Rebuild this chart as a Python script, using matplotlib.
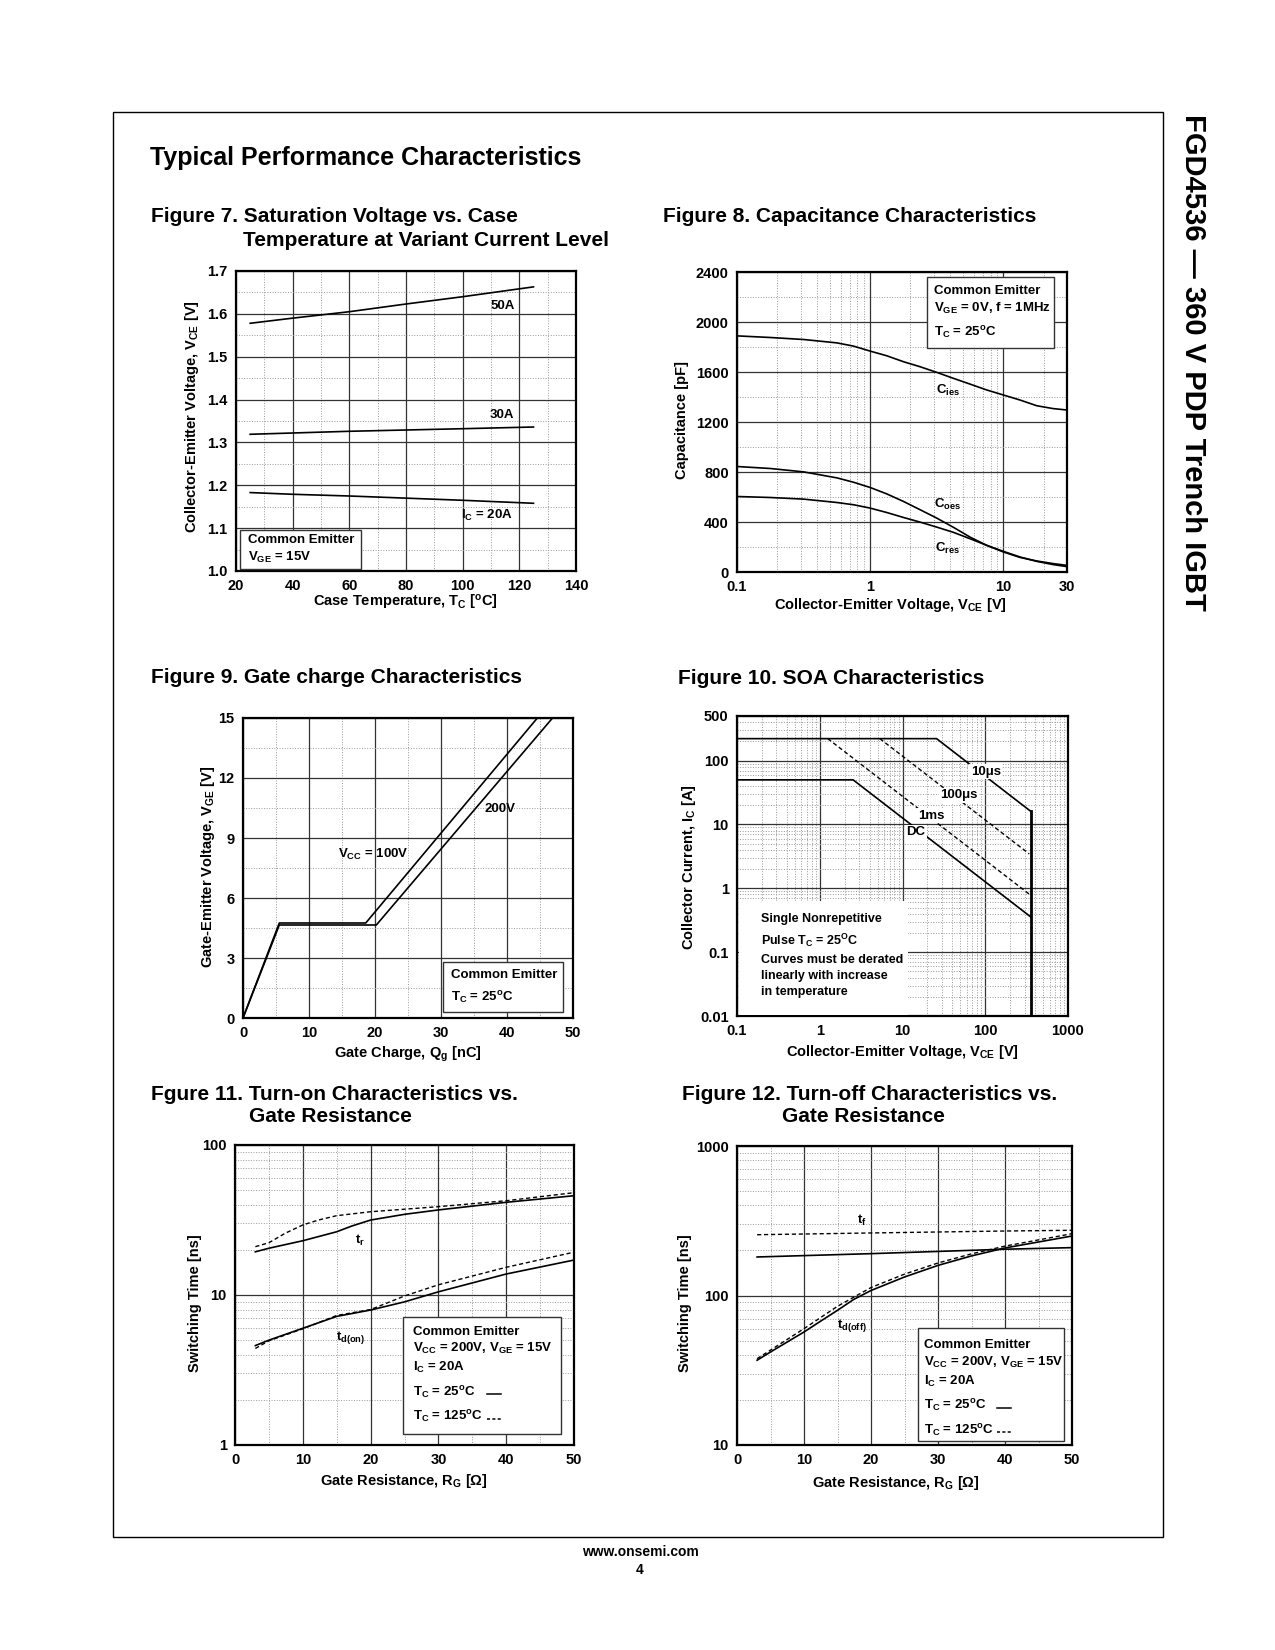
import matplotlib
matplotlib.use('Agg')
import matplotlib.pyplot as plt
from matplotlib.patches import Rectangle
from matplotlib.lines import Line2D
from matplotlib.ticker import MultipleLocator, LogLocator, NullFormatter, FormatStrFormatter

plt.rcParams['font.family'] = ['Liberation Sans', 'DejaVu Sans']
plt.rcParams['font.weight'] = 'bold'
plt.rcParams['mathtext.fontset'] = 'custom'
plt.rcParams['mathtext.rm'] = 'Liberation Sans:bold'
plt.rcParams['mathtext.it'] = 'Liberation Sans:bold'
plt.rcParams['mathtext.bf'] = 'Liberation Sans:bold'

# ---- Figure 7 data: VCE(sat) vs case temperature
tc = [25, 40, 60, 80, 100, 125]
vce_50a = [1.578, 1.590, 1.605, 1.623, 1.640, 1.663]
vce_30a = [1.319, 1.322, 1.326, 1.329, 1.332, 1.336]
vce_20a = [1.183, 1.179, 1.175, 1.170, 1.165, 1.158]

# ---- Figure 8 data: capacitance
vce_cap = [0.1, 0.178, 0.316, 0.562, 0.75, 1, 1.33, 1.78, 2.37, 3.16, 4.22, 5.62, 7.5,
           10, 13.3, 17.8, 23.7, 30]
cies = [1889, 1876, 1860, 1833, 1807, 1767, 1730, 1682, 1642, 1597, 1549, 1503, 1456,
        1416, 1376, 1330, 1307, 1296]
coes = [844, 828, 801, 753, 718, 676, 625, 564, 498, 431, 357, 279, 213,
        160, 117, 88, 67, 53]
cres = [604, 596, 583, 556, 538, 511, 476, 436, 399, 359, 317, 266, 213,
        165, 120, 85, 59, 43]

# ---- Figure 9 data: gate charge
qg_100v = [0, 5.5, 18.6, 44.6]
vge_100v = [0, 4.75, 4.75, 15]
qg_200v = [0, 5.5, 20.2, 46.9]
vge_200v = [0, 4.65, 4.65, 15]

# ---- Figure 10 data: SOA
soa_10us_v = [0.1, 25.8, 356]
soa_10us_i = [221, 221, 16]
soa_dc_v = [0.1, 2.53, 356]
soa_dc_i = [50, 50, 0.355]
soa_100us_v = [5.32, 340]
soa_100us_i = [221, 3.46]
soa_1ms_v = [1.25, 340]
soa_1ms_i = [221, 0.81]

# ---- Figure 11 data: turn-on vs RG
rg_tr25 = [3, 5, 10, 15, 17.2, 20, 25, 30, 40, 50]
tr_25 = [19.4, 20.5, 23.0, 26.4, 28.8, 31.6, 34.5, 36.9, 41.5, 45.9]
rg_tr125 = [3, 5, 7.4, 10, 12.3, 15, 20, 30, 40, 50]
tr_125 = [21.0, 22.3, 25.8, 29.3, 31.6, 33.8, 35.9, 38.8, 42.5, 48.1]
rg_tdon = [3, 5, 10, 15, 20, 25, 30, 40, 50]
tdon_25 = [4.6, 5.0, 6.0, 7.2, 7.94, 9.0, 10.5, 13.8, 17.1]
tdon_125 = [4.4, 4.95, 5.95, 7.3, 8.0, 9.85, 11.7, 15.3, 19.3]

# ---- Figure 12 data: turn-off vs RG
rg_tf = [3, 20, 40, 50]
tf_25 = [181, 190.5, 204, 209]
tf_125 = [255, 262, 270, 273]
rg_tdoff25 = [3, 5, 10, 12.4, 15, 17.4, 20, 25, 30, 35, 40, 50]
tdoff_25 = [36.9, 41.9, 57, 67, 79.6, 94, 108, 133, 159, 184, 208, 250]
rg_tdoff125 = [3, 10, 15, 20, 25, 30, 35, 40, 50]
tdoff_125 = [37.8, 60, 84.7, 113, 139, 165, 190, 214, 259]

W, H = 1275, 1650
fig = plt.figure(figsize=(12.75, 16.5), dpi=100)

TITLE = 15
TICK = 10.5
LABEL = 10.5
BOX = 9.5


def add_ax(l, t, r, b):
    return fig.add_axes([l / W, 1 - b / H, (r - l) / W, (b - t) / H])


def ftext(x, y, s, **kw):
    kw.setdefault('va', 'center')
    fig.text(x / W, 1 - y / H, s, **kw)


def fbox(x0, y0, x1, y1, ec='#333333'):
    fig.add_artist(Rectangle((x0 / W, 1 - y1 / H), (x1 - x0) / W, (y1 - y0) / H,
                             transform=fig.transFigure, fc='white', ec=ec, lw=1.0))


def fline(x0, x1, y, ls='-'):
    fig.add_artist(Line2D([x0 / W, x1 / W], [1 - y / H, 1 - y / H], transform=fig.transFigure,
                          color='black', lw=1.1, ls=ls))


def style(ax):
    for sp in ax.spines.values():
        sp.set_linewidth(1.6)
        sp.set_color('black')
    ax.tick_params(which='both', length=0, labelsize=TICK, pad=6)
    ax.xaxis.set_minor_formatter(NullFormatter())
    ax.yaxis.set_minor_formatter(NullFormatter())
    ax.grid(which='major', color='#333333', lw=0.9)
    ax.grid(which='minor', color='#999999', lw=0.7, ls=':')
    ax.set_axisbelow(True)


lw = 1.2
dash = (0, (3, 2))

# page frame and header
fig.add_artist(Rectangle((112.6 / W, 1 - 1537 / H), 1050 / W, (1537 - 111.5) / H,
                         transform=fig.transFigure, fc='none', ec='black', lw=1.0))
ftext(150, 158, 'Typical Performance Characteristics', fontsize=18)
ftext(1193, 362, 'FGD4536 \u2014 360 V PDP Trench IGBT', fontsize=21, rotation=-90,
      ha='center')
ftext(640, 1552, 'www.onsemi.com', fontsize=10, ha='center')
ftext(640, 1570, '4', fontsize=10, ha='center')

# ================= Figure 7
ax = add_ax(236, 271, 576, 571)
ax.plot(tc, vce_50a, color='black', lw=lw)
ax.plot(tc, vce_30a, color='black', lw=lw)
ax.plot(tc, vce_20a, color='black', lw=lw)
ax.set_xlim(20, 140)
ax.set_ylim(1.0, 1.7)
ax.xaxis.set_major_locator(MultipleLocator(20))
ax.xaxis.set_minor_locator(MultipleLocator(10))
ax.yaxis.set_major_locator(MultipleLocator(0.1))
ax.yaxis.set_minor_locator(MultipleLocator(0.05))
ax.yaxis.set_major_formatter(FormatStrFormatter('%.1f'))
style(ax)
ax.text(114, 1.619, '50A', fontsize=BOX, ha='center', va='center')
ax.text(114, 1.365, '30A', fontsize=BOX, ha='center', va='center')
ax.text(108.6, 1.13, 'I$_C$ = 20A', fontsize=BOX, ha='center', va='center')
ftext(150.7, 217, 'Figure 7. Saturation Voltage vs. Case', fontsize=TITLE)
ftext(243, 240, 'Temperature at Variant Current Level', fontsize=TITLE)
ftext(191.7, 417, 'Collector-Emitter Voltage, V$_{CE}$ [V]', fontsize=LABEL, rotation=90, ha='center')
ftext(405, 603, 'Case Temperature, T$_C$ [$^o$C]', fontsize=LABEL, ha='center')
fbox(240, 530, 361, 569.3)
ftext(248, 540, 'Common Emitter', fontsize=BOX)
ftext(248, 557.7, 'V$_{GE}$ = 15V', fontsize=BOX)

# ================= Figure 8
ax = add_ax(737, 272, 1067, 572)
ax.plot(vce_cap, cies, color='black', lw=lw)
ax.plot(vce_cap, coes, color='black', lw=lw)
ax.plot(vce_cap, cres, color='black', lw=lw)
ax.set_xscale('log')
ax.set_xlim(0.1, 30)
ax.set_ylim(0, 2400)
ax.set_xticks([0.1, 1, 10, 30])
ax.set_xticklabels(['0.1', '1', '10', '30'])
ax.xaxis.set_minor_locator(LogLocator(subs=range(2, 10)))
ax.yaxis.set_major_locator(MultipleLocator(400))
ax.yaxis.set_minor_locator(MultipleLocator(200))
style(ax)
ax.text(3.82, 1455, 'C$_{ies}$', fontsize=BOX, ha='center', va='center')
ax.text(3.82, 537, 'C$_{oes}$', fontsize=BOX, ha='center', va='center')
ax.text(3.82, 192, 'C$_{res}$', fontsize=BOX, ha='center', va='center')
ftext(662.7, 216.7, 'Figure 8. Capacitance Characteristics', fontsize=TITLE)
ftext(681.7, 420, 'Capacitance [pF]', fontsize=LABEL, rotation=90, ha='center')
ftext(890, 605, 'Collector-Emitter Voltage, V$_{CE}$ [V]', fontsize=LABEL, ha='center')
fbox(926.7, 276.7, 1054.3, 348.3)
ftext(934, 290.7, 'Common Emitter', fontsize=BOX)
ftext(934, 308.3, 'V$_{GE}$ = 0V, f = 1MHz', fontsize=BOX)
ftext(934, 332.7, 'T$_C$ = 25$^o$C', fontsize=BOX)

# ================= Figure 9
ax = add_ax(243, 718, 573, 1018)
ax.plot(qg_100v, vge_100v, color='black', lw=lw)
ax.plot(qg_200v, vge_200v, color='black', lw=lw)
ax.set_xlim(0, 50)
ax.set_ylim(0, 15)
ax.xaxis.set_major_locator(MultipleLocator(10))
ax.xaxis.set_minor_locator(MultipleLocator(5))
ax.yaxis.set_major_locator(MultipleLocator(3))
ax.yaxis.set_minor_locator(MultipleLocator(1.5))
style(ax)
ax.text(19.7, 8.17, 'V$_{CC}$ = 100V', fontsize=BOX, ha='center', va='center')
ax.text(39.0, 10.45, '200V', fontsize=BOX, ha='center', va='center')
ftext(150.7, 677.7, 'Figure 9. Gate charge Characteristics', fontsize=TITLE)
ftext(208.3, 866.7, 'Gate-Emitter Voltage, V$_{GE}$ [V]', fontsize=LABEL, rotation=90, ha='center')
ftext(408, 1054, 'Gate Charge, Q$_g$ [nC]', fontsize=LABEL, ha='center')
fbox(443.3, 962.3, 562.7, 1011.7)
ftext(451, 975, 'Common Emitter', fontsize=BOX)
ftext(451, 997.7, 'T$_C$ = 25$^o$C', fontsize=BOX)

# ================= Figure 10
ax = add_ax(737, 716, 1068, 1016)
ax.plot(soa_10us_v, soa_10us_i, color='black', lw=lw)
ax.plot([soa_10us_v[-1]] * 2, [0.01, soa_10us_i[-1]], color='black', lw=2.0)
ax.plot(soa_dc_v, soa_dc_i, color='black', lw=lw)
ax.plot(soa_100us_v, soa_100us_i, color='black', lw=1.0, ls=dash)
ax.plot(soa_1ms_v, soa_1ms_i, color='black', lw=1.0, ls=dash)
ax.set_xscale('log')
ax.set_yscale('log')
ax.set_xlim(0.1, 1000)
ax.set_ylim(0.01, 500)
ax.set_xticks([0.1, 1, 10, 100, 1000])
ax.set_xticklabels(['0.1', '1', '10', '100', '1000'])
ax.set_yticks([0.01, 0.1, 1, 10, 100, 500])
ax.set_yticklabels(['0.01', '0.1', '1', '10', '100', '500'])
ax.xaxis.set_minor_locator(LogLocator(subs=range(2, 10)))
ax.yaxis.set_minor_locator(LogLocator(subs=range(2, 10)))
style(ax)
bb = dict(fc='white', ec='none', pad=1)
ax.text(67, 67, '10\u03bcs', fontsize=BOX, ha='left', va='center', bbox=bb)
ax.text(28.8, 28.7, '100\u03bcs', fontsize=BOX, ha='left', va='center', bbox=bb)
ax.text(15.5, 13.8, '1ms', fontsize=BOX, ha='left', va='center', bbox=bb)
ax.text(11.2, 7.5, 'DC', fontsize=BOX, ha='left', va='center', bbox=bb)
ftext(678.3, 678.3, 'Figure 10. SOA Characteristics', fontsize=TITLE)
ftext(689.3, 866.7, 'Collector Current, I$_C$ [A]', fontsize=LABEL, rotation=90, ha='center')
ftext(902, 1051.7, 'Collector-Emitter Voltage, V$_{CE}$ [V]', fontsize=LABEL, ha='center')
fbox(738.5, 900.7, 908.3, 1014.5, ec='none')
ftext(761, 918.7, 'Single Nonrepetitive', fontsize=9)
ftext(761, 940.3, 'Pulse T$_C$ = 25$^O$C', fontsize=9)
ftext(761, 960.3, 'Curves must be derated', fontsize=9)
ftext(761, 976, 'linearly with increase', fontsize=9)
ftext(761, 991.7, 'in temperature', fontsize=9)

# ================= Figure 11
ax = add_ax(235, 1145, 574, 1445)
ax.plot(rg_tr25, tr_25, color='black', lw=lw)
ax.plot(rg_tr125, tr_125, color='black', lw=1.0, ls=dash)
ax.plot(rg_tdon, tdon_25, color='black', lw=lw)
ax.plot(rg_tdon, tdon_125, color='black', lw=1.0, ls=dash)
ax.set_yscale('log')
ax.set_xlim(0, 50)
ax.set_ylim(1, 100)
ax.xaxis.set_major_locator(MultipleLocator(10))
ax.xaxis.set_minor_locator(MultipleLocator(5))
ax.set_yticks([1, 10, 100])
ax.set_yticklabels(['1', '10', '100'])
ax.yaxis.set_minor_locator(LogLocator(subs=range(2, 10)))
style(ax)
ax.text(18.5, 23.1, 't$_r$', fontsize=BOX, ha='center', va='center')
ax.text(17.1, 5.2, 't$_{d(on)}$', fontsize=BOX, ha='center', va='center')
ftext(150.7, 1094, 'Fgure 11. Turn-on Characteristics vs.', fontsize=TITLE)
ftext(249.3, 1116.7, 'Gate Resistance', fontsize=TITLE)
ftext(195, 1303, 'Switching Time [ns]', fontsize=LABEL, rotation=90, ha='center')
ftext(404, 1481, 'Gate Resistance, R$_G$ [\u03a9]', fontsize=LABEL, ha='center')
fbox(403.3, 1316.7, 560.7, 1434)
ftext(413.3, 1331.7, 'Common Emitter', fontsize=BOX)
ftext(413.3, 1348.3, 'V$_{CC}$ = 200V, V$_{GE}$ = 15V', fontsize=BOX)
ftext(413.3, 1367.7, 'I$_C$ = 20A', fontsize=BOX)
ftext(413.3, 1392.7, 'T$_C$ = 25$^o$C', fontsize=BOX)
ftext(413.3, 1417.3, 'T$_C$ = 125$^o$C', fontsize=BOX)
fline(487, 501, 1394.3)
fline(487, 501, 1419, ls=(0, (2, 1.5)))

# ================= Figure 12
ax = add_ax(737, 1146, 1072, 1445)
ax.plot(rg_tf, tf_25, color='black', lw=lw)
ax.plot(rg_tf, tf_125, color='black', lw=1.0, ls=dash)
ax.plot(rg_tdoff25, tdoff_25, color='black', lw=lw)
ax.plot(rg_tdoff125, tdoff_125, color='black', lw=1.0, ls=dash)
ax.set_yscale('log')
ax.set_xlim(0, 50)
ax.set_ylim(10, 1000)
ax.xaxis.set_major_locator(MultipleLocator(10))
ax.xaxis.set_minor_locator(MultipleLocator(5))
ax.set_yticks([10, 100, 1000])
ax.set_yticklabels(['10', '100', '1000'])
ax.yaxis.set_minor_locator(LogLocator(subs=range(2, 10)))
style(ax)
ax.text(18.7, 319, 't$_f$', fontsize=BOX, ha='center', va='center')
ax.text(17.1, 63.4, 't$_{d(off)}$', fontsize=BOX, ha='center', va='center')
ftext(681.7, 1094, 'Figure 12. Turn-off Characteristics vs.', fontsize=TITLE)
ftext(781.7, 1116.7, 'Gate Resistance', fontsize=TITLE)
ftext(685, 1303, 'Switching Time [ns]', fontsize=LABEL, rotation=90, ha='center')
ftext(895.7, 1483, 'Gate Resistance, R$_G$ [\u03a9]', fontsize=LABEL, ha='center')
fbox(917.7, 1328.3, 1064.3, 1440.7)
ftext(924.3, 1345.3, 'Common Emitter', fontsize=BOX)
ftext(924.3, 1362.3, 'V$_{CC}$ = 200V, V$_{GE}$ = 15V', fontsize=BOX)
ftext(924.3, 1381.7, 'I$_C$ = 20A', fontsize=BOX)
ftext(924.3, 1406, 'T$_C$ = 25$^o$C', fontsize=BOX)
ftext(924.3, 1431, 'T$_C$ = 125$^o$C', fontsize=BOX)
fline(997, 1011, 1407.7)
fline(997, 1011, 1431.7, ls=(0, (2, 1.5)))

fig.savefig('out.png', dpi=100)
